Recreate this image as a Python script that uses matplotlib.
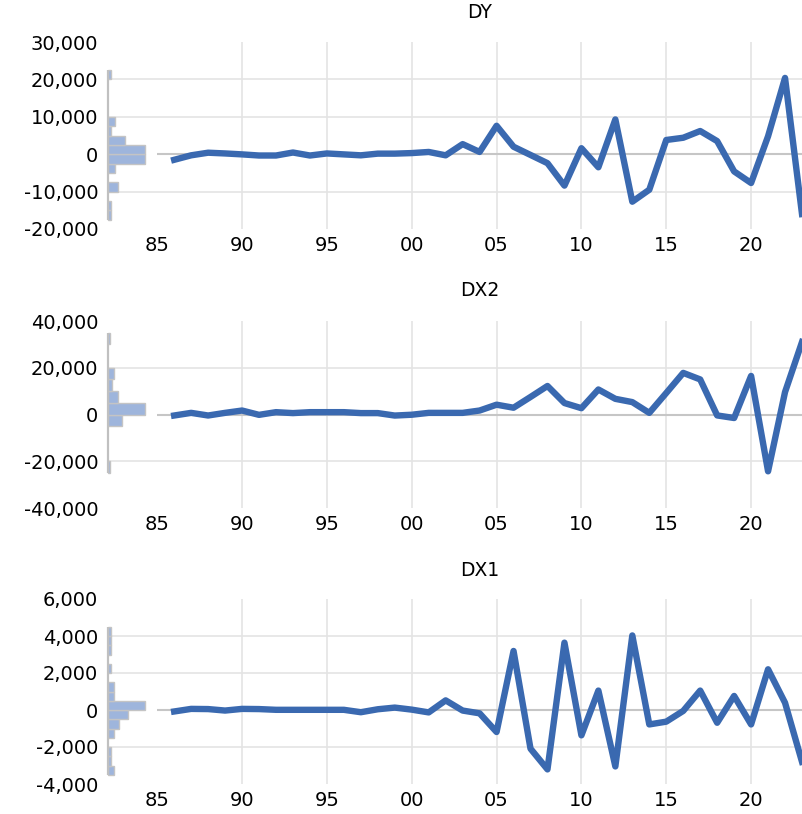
import numpy as np
import matplotlib
matplotlib.use('Agg')
import matplotlib.pyplot as plt
from matplotlib.ticker import StrMethodFormatter

# annual data, differenced series (first obs lost in 1985)
years = list(range(1986, 2024))

dy = [-1500, -300, 400, 200, -50, -350, -350, 450, -350, 200,
      -50, -300, 150, 150, 300, 600, -300, 2700, 600, 7600,
      2000, -200, -2400, -8400, 1600, -3500, 9300, -12700, -9500, 3800,
      4400, 6200, 3500, -4600, -7700, 4800, 20400, -16000]

dx2 = [-430, 700, -430, 700, 1700, -150, 1000, 600, 1000, 1000,
       1000, 600, 600, -450, -100, 700, 700, 700, 1700, 4200,
       2900, 7500, 12200, 4900, 2700, 10700, 6700, 5300, 700, 9200,
       17800, 15000, -400, -1500, 16500, -24300, 9600, 31000]

dx1 = [-80, 60, 50, -30, 60, 50, 10, 10, 10, 10,
       10, -120, 40, 130, 20, -130, 520, -30, -180, -1190,
       3190, -2090, -3210, 3640, -1370, 1050, -3050, 4030, -780, -630,
       -50, 1050, -690, 760, -780, 2200, 390, -2800]

series_names = ['DY', 'DX2', 'DX1']
y_limits = [(-20000, 30000), (-40000, 40000), (-4000, 6000)]
y_steps = [10000, 20000, 2000]
# histogram bins (lower edge, upper edge, width)
hist_bins = [(-17500, 22500, 2500), (-25000, 35000, 5000), (-3500, 4500, 500)]
year_ticks = [1985, 1990, 1995, 2000, 2005, 2010, 2015, 2020]

LINE_COLOR = '#3a69b0'
HIST_COLOR = '#9eb5dc'
GRID_COLOR = '#e4e4e4'
ZERO_COLOR = '#c6c6c6'


def main():
  plt.rcParams['font.family'] = ['DejaVu Sans']
  plt.rcParams['axes.unicode_minus'] = False

  fig = plt.figure(figsize=(8.02, 8.14), dpi=100)
  W, H = 802.0, 814.0
  # axes boxes in pixels: (top, bottom)
  boxes = [(42, 229), (321, 508), (599, 784)]
  title_y = [12.5, 290, 570]
  x_left, x_right = 1982.1, 2023.0
  hist_max_width = 2.18  # in years

  data = [dy, dx2, dx1]
  for i, vals in enumerate(data):
    top, bottom = boxes[i]
    ax = fig.add_axes([108 / W, 1 - bottom / H, 1 - 108 / W, (bottom - top) / H])
    ymin, ymax = y_limits[i]
    ax.set_xlim(x_left, x_right)
    ax.set_ylim(ymin, ymax)

    # grid lines
    inner = np.arange(ymin + y_steps[i], ymax, y_steps[i])
    ax.hlines([v for v in inner if v != 0], x_left, x_right, color=GRID_COLOR, lw=1.2, zorder=1)
    ax.vlines(year_ticks[1:], ymin, ymax, color=GRID_COLOR, lw=1.2, zorder=1)
    ax.hlines(0, 1985, x_right, color=ZERO_COLOR, lw=1.5, zorder=2)

    # histogram on the axis border
    lo, hi, step = hist_bins[i]
    edges = np.arange(lo, hi + step, step)
    counts, _ = np.histogram(vals, bins=edges)
    scale = hist_max_width / counts.max()
    centers = edges[:-1] + step / 2.0
    mask = counts > 0
    ax.barh(centers[mask], counts[mask] * scale, height=step, left=x_left,
            color=HIST_COLOR, edgecolor='#c4c4c4', linewidth=1.0, zorder=3, clip_on=False)
    ax.vlines(x_left, edges[0], edges[-1], color='#c0c0c0', lw=1.6, zorder=4, clip_on=False)

    # series
    ax.plot(years, vals, color=LINE_COLOR, lw=4.6, solid_joinstyle='round', zorder=5)

    ax.set_yticks(np.arange(ymin, ymax + 1, y_steps[i]))
    ax.yaxis.set_major_formatter(StrMethodFormatter('{x:,.0f}'))
    ax.set_xticks(year_ticks)
    ax.set_xticklabels(['%02d' % (y % 100) for y in year_ticks])
    ax.tick_params(axis='both', length=0, labelsize=14, colors='black')
    ax.tick_params(axis='y', pad=7)
    ax.tick_params(axis='x', pad=5)
    for s in ax.spines.values():
      s.set_visible(False)

    fig.text(480 / W, 1 - title_y[i] / H, series_names[i], ha='center', va='center', fontsize=13.5)

  fig.savefig('out.png', dpi=100, facecolor='w')
  plt.close('all')


if __name__ == '__main__':
  main()
